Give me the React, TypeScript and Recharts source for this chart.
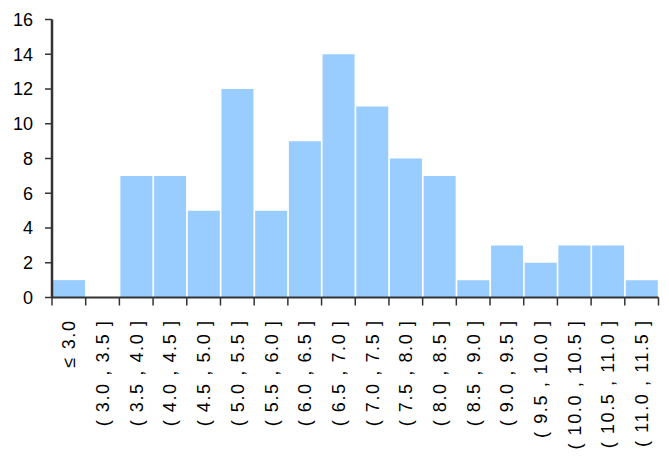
import React from "react";
import { BarChart, Bar, XAxis, YAxis } from "recharts";

const categories = [
  "≤ 3.0",
  "( 3.0 , 3.5 ]",
  "( 3.5 , 4.0 ]",
  "( 4.0 , 4.5 ]",
  "( 4.5 , 5.0 ]",
  "( 5.0 , 5.5 ]",
  "( 5.5 , 6.0 ]",
  "( 6.0 , 6.5 ]",
  "( 6.5 , 7.0 ]",
  "( 7.0 , 7.5 ]",
  "( 7.5 , 8.0 ]",
  "( 8.0 , 8.5 ]",
  "( 8.5 , 9.0 ]",
  "( 9.0 , 9.5 ]",
  "( 9.5 , 10.0 ]",
  "( 10.0 , 10.5 ]",
  "( 10.5 , 11.0 ]",
  "( 11.0 , 11.5 ]",
];

const counts = [1, 0, 7, 7, 5, 12, 5, 9, 14, 11, 8, 7, 1, 3, 2, 3, 3, 1];

const yTicks = [0, 2, 4, 6, 8, 10, 12, 14, 16];

const data = categories.map((c, i) => ({ name: c, value: counts[i] }));

const FONT = "'Liberation Sans', Arial, sans-serif";

const XTick = (props: any) => {
  const { x, y, payload, index } = props;
  const half = payload && payload.offset ? payload.offset : 16.85;
  const axisY = y - 10;
  const tx = x + 6.5;
  const ty = y + 12;
  const isLast = index === categories.length - 1;
  return (
    <g>
      <line x1={x - half} x2={x - half} y1={axisY} y2={axisY + 8} stroke="#333" strokeWidth={1.5} />
      {isLast && (
        <line x1={x + half} x2={x + half} y1={axisY} y2={axisY + 8} stroke="#333" strokeWidth={1.5} />
      )}
      <text
        x={tx}
        y={ty}
        transform={`rotate(-90, ${tx}, ${ty})`}
        textAnchor="end"
        fontSize={18}
        fontFamily={FONT}
        fill="#000"
        style={{ letterSpacing: "1.6px" }}
      >
        {payload.value}
      </text>
    </g>
  );
};

export default function App() {
  return (
    <div style={{ position: "absolute", left: 0, top: 0, width: 669, height: 456, background: "#fff" }}>
      <BarChart
        width={669}
        height={456}
        data={data}
        margin={{ top: 19.5, right: 10.5, bottom: 0, left: 0 }}
        barCategoryGap={1}
      >
        <XAxis
          dataKey="name"
          interval={0}
          tick={<XTick />}
          tickSize={8}
          tickMargin={2}
          height={158.5}
          axisLine={{ stroke: "#333", strokeWidth: 2 }}
          tickLine={false}
          scale="band"
        />
        <YAxis
          domain={[0, 16]}
          ticks={yTicks}
          interval={0}
          width={52}
          tickSize={7}
          tickMargin={12}
          axisLine={{ stroke: "#333", strokeWidth: 2.5 }}
          tickLine={{ stroke: "#333", strokeWidth: 1.5 }}
          tick={{ fontSize: 18, fontFamily: FONT, fill: "#000" }}
        />
        <Bar dataKey="value" fill="#99CCFF" isAnimationActive={false} />
      </BarChart>
    </div>
  );
}
